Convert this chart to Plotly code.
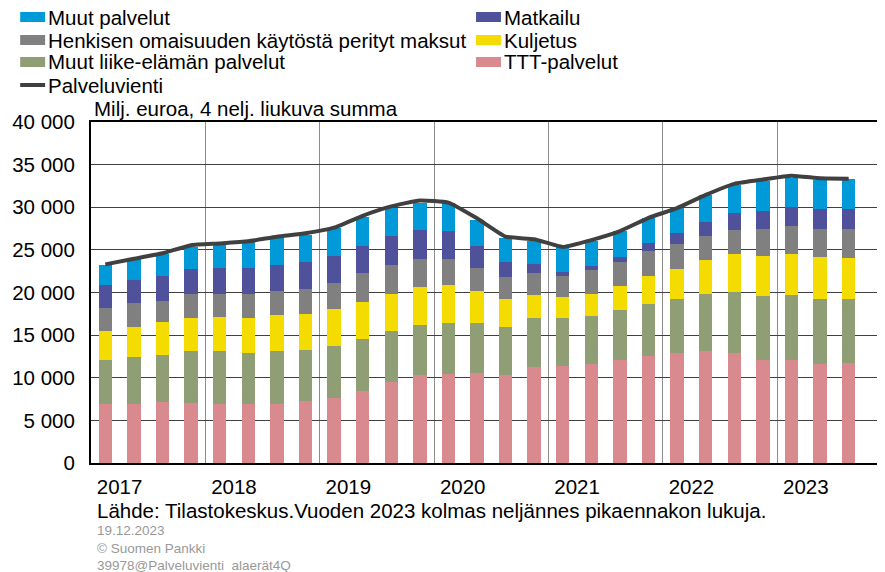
import plotly.graph_objects as go

quarters = [f"{y}Q{q}" for y in range(2017, 2024) for q in range(1, 5)][:27]

ttt = [6950, 6950, 7140, 7070, 6950, 6870, 6950, 7220, 7650, 8400, 9460, 10280, 10440, 10520,
       10280, 11300, 11380, 11620, 12050, 12600, 12870, 13110, 12870, 12130, 12050, 11580, 11780]
liike = [5180, 5530, 5540, 6080, 6160, 6080, 6160, 6010, 6130, 6120, 5970, 5930, 5930, 5850,
         5700, 5700, 5620, 5650, 5890, 6040, 6360, 6750, 7150, 7460, 7610, 7650, 7450]
kuljetus = [3410, 3530, 3810, 3890, 4000, 4050, 4200, 4240, 4310, 4320, 4430, 4480, 4470, 3840,
            3210, 2660, 2430, 2510, 2860, 3260, 3570, 3970, 4510, 4670, 4910, 4950, 4870]
henkinen = [2670, 2750, 2550, 2740, 2750, 2860, 2900, 2940, 3030, 3420, 3380, 3210, 3140, 2710,
            2670, 2600, 2550, 2870, 2830, 2910, 2870, 2740, 2790, 3140, 3220, 3260, 3340]
matkailu = [2670, 2670, 2860, 2950, 3060, 3060, 3030, 3140, 3140, 3210, 3330, 3420, 3260, 2550,
            1770, 1090, 430, 470, 550, 940, 1300, 1690, 2040, 2120, 2280, 2350, 2350]
muut = [2360, 2470, 2630, 2590, 2670, 2950, 3140, 3220, 3290, 3380, 3340, 3180, 3260, 3070,
        2790, 2710, 2990, 2980, 2980, 2980, 2940, 3180, 3260, 3570, 3370, 3460, 3570]
palveluvienti = [23300, 23950, 24600, 25550, 25750, 26000, 26550, 26950, 27600, 29000, 30100,
                 30800, 30550, 28700, 26550, 26250, 25350, 26150, 27200, 28750, 29900, 31450,
                 32750, 33250, 33700, 33400, 33350]

years = ["2017", "2018", "2019", "2020", "2021", "2022", "2023"]
y_ticks = [0, 5000, 10000, 15000, 20000, 25000, 30000, 35000, 40000]
y_labels = ["0", "5 000", "10 000", "15 000", "20 000", "25 000", "30 000", "35 000", "40 000"]

series = [
    ("TTT-palvelut", ttt, "#D88A8F"),
    ("Muut liike-elämän palvelut", liike, "#909E76"),
    ("Kuljetus", kuljetus, "#F5DC00"),
    ("Henkisen omaisuuden käytöstä perityt maksut", henkinen, "#808080"),
    ("Matkailu", matkailu, "#4F529A"),
    ("Muut palvelut", muut, "#009AD8"),
]

FONT = "Liberation Sans, Arial, sans-serif"
OFF = 8  # page body margin
W, H = 885 - OFF, 572 - OFF
L = 91 - OFF
T = 122 - OFF
B = H - (463 - OFF)
R = 0
PW = W - L - R
PH = H - T - B

xs = list(range(len(quarters)))

fig = go.Figure()
for name, vals, col in series:
    fig.add_trace(go.Bar(x=xs, y=vals, name=name, marker=dict(color=col, line=dict(width=0)),
                         width=0.47, showlegend=False))
fig.add_trace(go.Scatter(x=xs, y=palveluvienti, name="Palveluvienti", mode="lines",
                         line=dict(color="#404040", width=4, shape="spline", smoothing=0.4),
                         showlegend=False))

def px(xref_px):
    return (xref_px - OFF - L) / PW

def py(yref_px):
    return 1 - (yref_px - OFF - T) / PH

shapes = []
annotations = []
legend_items = [
    ("Muut palvelut", "#009AD8", 20, 17, "rect"),
    ("Henkisen omaisuuden käytöstä perityt maksut", "#808080", 20, 40, "rect"),
    ("Muut liike-elämän palvelut", "#909E76", 20, 62, "rect"),
    ("Palveluvienti", "#404040", 20, 85, "line"),
    ("Matkailu", "#4F529A", 477, 17, "rect"),
    ("Kuljetus", "#F5DC00", 477, 40, "rect"),
    ("TTT-palvelut", "#D88A8F", 477, 62, "rect"),
]
for text, col, x0, yc, kind in legend_items:
    if kind == "rect":
        shapes.append(dict(type="rect", xref="paper", yref="paper", x0=px(x0), x1=px(x0 + 25),
                           y0=py(yc + 5), y1=py(yc - 5), fillcolor=col, line=dict(width=0)))
    else:
        shapes.append(dict(type="line", xref="paper", yref="paper", x0=px(x0), x1=px(x0 + 25),
                           y0=py(yc), y1=py(yc), line=dict(color=col, width=4)))
    annotations.append(dict(text=text, xref="paper", yref="paper", x=px(x0 + 26), y=py(yc),
                            xanchor="left", yanchor="middle", showarrow=False,
                            font=dict(size=20.5, color="black", family=FONT)))

annotations.append(dict(text="Milj. euroa, 4 nelj. liukuva summa", xref="paper", yref="paper",
                        x=px(92), y=py(108), xanchor="left", yanchor="middle", showarrow=False,
                        font=dict(size=20.5, color="black", family=FONT)))
annotations.append(dict(text="Lähde: Tilastokeskus.Vuoden 2023 kolmas neljännes pikaennakon lukuja.",
                        xref="paper", yref="paper", x=px(95), y=py(510), xanchor="left",
                        yanchor="middle", showarrow=False,
                        font=dict(size=20.5, color="black", family=FONT)))
for txt, yy in [("19.12.2023", 530), ("© Suomen Pankki", 548), ("39978@Palveluvienti_alaerät4Q", 565)]:
    annotations.append(dict(text=txt, xref="paper", yref="paper", x=px(95), y=py(yy),
                            xanchor="left", yanchor="middle", showarrow=False,
                            font=dict(size=13.5, color="#999999", family=FONT)))

year_pos = [0.5 + 4 * i for i in range(len(years))]
xrange = [-0.5, 27.2]

fig.update_layout(
    width=W, height=H, barmode="stack", bargap=0,
    margin=dict(l=L, r=R, t=T, b=B, pad=0),
    paper_bgcolor="white", plot_bgcolor="white",
    font=dict(family=FONT, size=20.5, color="black"),
    shapes=shapes, annotations=annotations,
    xaxis=dict(range=xrange, tickmode="array", tickvals=year_pos, ticktext=years,
               ticks="", showgrid=False, showline=True, linecolor="black", linewidth=2,
               mirror=True, zeroline=False, ticklabelstandoff=4,
               tickfont=dict(size=20.5, family=FONT, color="black"),
               minor=dict(tickmode="linear", tick0=3.5, dtick=4, showgrid=True,
                          gridcolor="#8c8c8c", gridwidth=1, ticks="")),
    xaxis2=dict(range=xrange, overlaying="x", anchor="y", side="bottom", tickmode="array",
                tickvals=[1.5 + 4 * i for i in range(7)], ticktext=[""] * 7, ticks="inside",
                ticklen=6, tickcolor="#999999", tickwidth=1, showgrid=False, showline=False,
                zeroline=False, showticklabels=False),
    yaxis=dict(range=[0, 40000], tickmode="array", tickvals=y_ticks, ticktext=y_labels,
               showgrid=True, gridcolor="#404040", gridwidth=1, showline=True,
               linecolor="black", linewidth=2, mirror=True, zeroline=False, ticks="",
               ticklabelstandoff=10, tickfont=dict(size=20.5, family=FONT, color="black")),
)

fig.write_html("out.html")
